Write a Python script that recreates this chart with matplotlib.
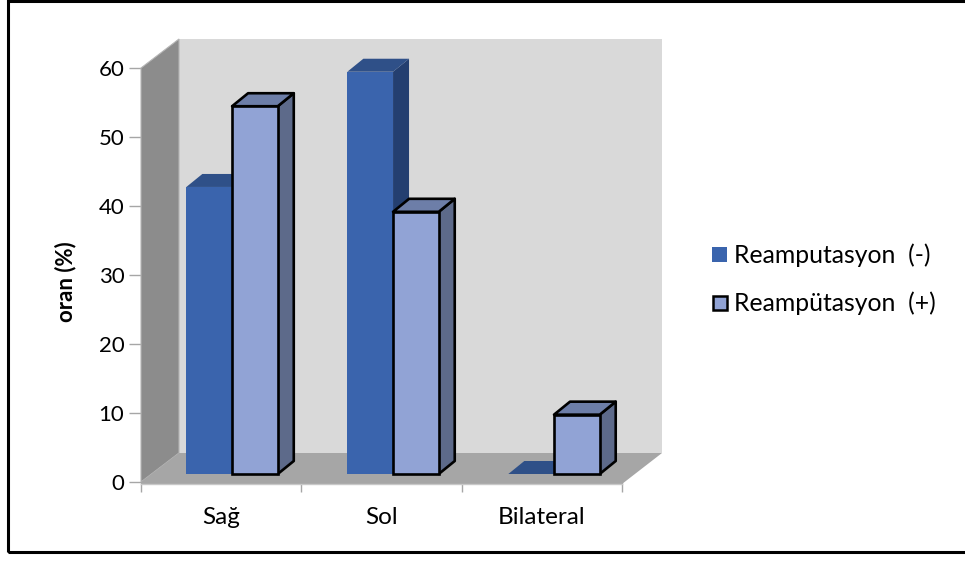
import matplotlib
matplotlib.use('Agg')
import matplotlib.pyplot as plt
from matplotlib.patches import Polygon, Rectangle

plt.rcParams['font.family'] = ['Lato', 'DejaVu Sans']

categories = ['Sağ', 'Sol', 'Bilateral']
series_names = ['Reamputasyon  (-)', 'Reampütasyon  (+)']
values_neg = [41.6, 58.3, 0]
values_pos = [53.3, 38.0, 8.6]
y_ticks = [0, 10, 20, 30, 40, 50, 60]

W, H = 965, 561
fig = plt.figure(figsize=(W / 100, H / 100), dpi=100)

# outer frame
fig.add_artist(Rectangle((8 / W, 1 - 552 / H), 960 / W, 551 / H, fill=False,
                         ec='black', lw=2.2, transform=fig.transFigure))

# axes = front plane of the 3d box
left, right, top, bottom = 141, 622, 68, 482
ax = fig.add_axes([left / W, 1 - bottom / H, (right - left) / W, (bottom - top) / H])
ax.set_xlim(0, 3)
ax.set_ylim(0, 60)
ax.patch.set_visible(False)
for s in ax.spines.values():
    s.set_visible(False)

px_x = 3 / (right - left)
px_y = 60 / (bottom - top)


def shifted(x, y, dx, dy):
    # offset from a data point, given in pixels (dy up)
    return (x + dx * px_x, y + dy * px_y)


def poly(points, **kw):
    ax.add_patch(Polygon(points, closed=True, clip_on=False, **kw))


# walls and floor
wall_dx, wall_dy = 38, 29
poly([shifted(0, 0, wall_dx, wall_dy), shifted(3, 0, wall_dx + 2, wall_dy),
      shifted(3, 60, wall_dx + 2, wall_dy), shifted(0, 60, wall_dx, wall_dy)],
     fc='#d9d9d9', ec='none', zorder=1)
poly([(0, 0), (0, 60), shifted(0, 60, wall_dx, wall_dy), shifted(0, 0, wall_dx, wall_dy)],
     fc='#8c8c8c', ec='#b5b5b5', lw=0.8, zorder=2)
poly([(0, 0), shifted(0, 0, wall_dx, wall_dy), shifted(3, 0, wall_dx + 2, wall_dy),
      shifted(3, 0, 0, -2), shifted(0, 0, 0, -2)],
     fc='#a6a6a6', ec='none', zorder=2)


def bar_3d(x0, width, val, front, side, topc, ec, lw, z):
    # bar stands a little inside the floor, so its foot is raised 8 px
    depth_x, depth_y = 16, 13
    x1 = x0 + width
    y_low = 8 * px_y
    y_high = val + y_low
    poly([(x1, y_low), shifted(x1, y_low, depth_x, depth_y),
          shifted(x1, y_high, depth_x, depth_y), (x1, y_high)],
         fc=side, ec=ec, lw=lw, zorder=z, joinstyle='round')
    poly([(x0, y_high), shifted(x0, y_high, depth_x, depth_y),
          shifted(x1, y_high, depth_x, depth_y), (x1, y_high)],
         fc=topc, ec=ec, lw=lw, zorder=z, joinstyle='round')
    if val > 0:
        ax.bar(x0, val, width=width, bottom=y_low, align='edge', color=front,
               edgecolor=ec, linewidth=lw, zorder=z, clip_on=False)


bar_w = 0.285
centers = [0.568, 1.572, 2.576]
for i, c in enumerate(centers):
    z = 3 + i * 2
    bar_3d(c - bar_w, bar_w, values_neg[i], '#3a64ad', '#243f70', '#2f5088', 'none', 0, z)
    bar_3d(c, bar_w, values_pos[i], '#91a3d5', '#5d6a8a', '#6d7ea8', 'black', 1.9, z + 1)

ax.set_yticks(y_ticks)
ax.set_yticklabels([str(v) for v in y_ticks], fontsize=16)
ax.set_xticks([0, 1, 2, 3])
ax.set_xticklabels([])
ax.tick_params(axis='y', length=9, width=1, color='#a6a6a6', pad=3, labelcolor='black')
ax.tick_params(axis='x', length=7, width=1, color='#a6a6a6', pad=0)
ax.set_ylabel('oran (%)', fontsize=16, fontweight='bold')
ax.yaxis.set_label_coords(-0.135, 0.483)

# axis line under the floor
ax.plot([0, 3], [-2 * px_y, -2 * px_y], color='#c8c8c8', lw=1, clip_on=False, zorder=2)

for i, name in enumerate(categories):
    ax.text(i + 0.5, -35 * px_y, name, ha='center', va='center', fontsize=17.5)

# legend drawn by hand on the figure
fig.add_artist(Rectangle((712 / W, 1 - 262 / H), 15 / W, 15 / H, fc='#3a64ad', ec='none',
                         transform=fig.transFigure))
fig.add_artist(Rectangle((713 / W, 1 - 310 / H), 14 / W, 14 / H, fc='#91a3d5', ec='black', lw=1.8,
                         transform=fig.transFigure))
fig.text(734 / W, 1 - 255 / H, series_names[0], fontsize=17.8, va='center', ha='left')
fig.text(734 / W, 1 - 303 / H, series_names[1], fontsize=17.8, va='center', ha='left')

fig.savefig('out.png', dpi=100)
